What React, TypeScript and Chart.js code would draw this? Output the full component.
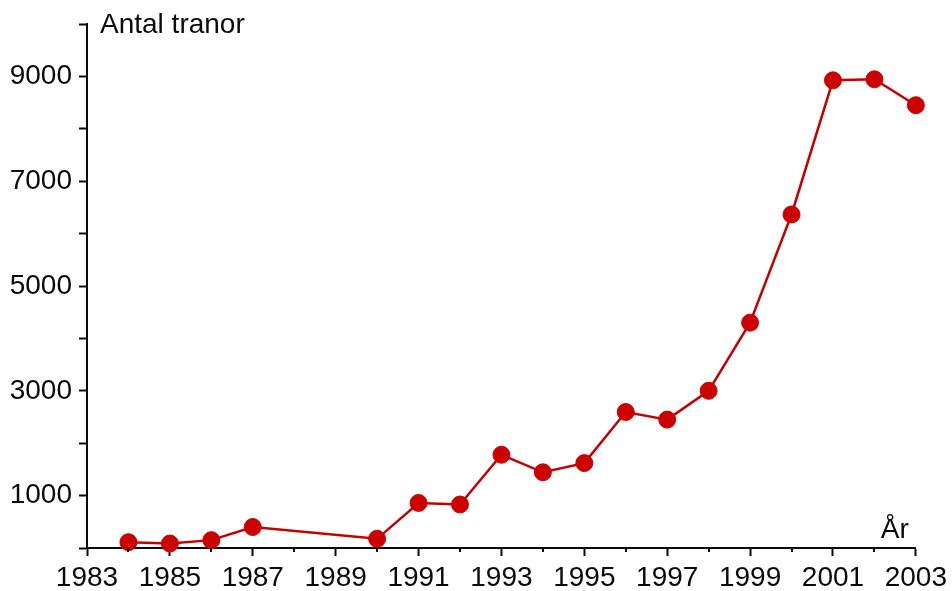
import { useEffect, useRef } from "react";
import { Chart, registerables } from "chart.js";

Chart.register(...registerables);

const years = [1984, 1985, 1986, 1987, 1990, 1991, 1992, 1993, 1994, 1995, 1996, 1997, 1998, 1999, 2000, 2001, 2002, 2003];
const cranes = [110, 85, 150, 400, 175, 860, 830, 1780, 1445, 1620, 2595, 2450, 3000, 4300, 6365, 8925, 8945, 8450];
const yTitle = "Antal tranor";
const xTitle = "År";
const xMin = 1983;
const xMax = 2003;
const yMin = 0;
const yMax = 10000;

const FONT = "'Liberation Sans', Arial, sans-serif";
const INK = "#0a0a0a";
const RED = "#cc0000";

export default function App() {
  const ref = useRef<HTMLCanvasElement | null>(null);

  useEffect(() => {
    document.body.style.margin = "0";
    const canvas = ref.current;
    if (!canvas) return;

    const extras = {
      id: "extras",
      afterDraw(chart: any) {
        const { ctx, chartArea, scales } = chart;
        const x = scales.x;
        ctx.save();
        ctx.strokeStyle = INK;
        ctx.lineWidth = 2;
        for (let yr = xMin; yr <= xMax; yr++) {
          if (yr % 2 === 0) {
            const px = Math.round(x.getPixelForValue(yr));
            ctx.beginPath();
            ctx.moveTo(px, chartArea.bottom);
            ctx.lineTo(px, chartArea.bottom + 4);
            ctx.stroke();
          }
        }
        ctx.fillStyle = INK;
        ctx.font = `28px ${FONT}`;
        ctx.textAlign = "left";
        ctx.textBaseline = "middle";
        ctx.fillText(yTitle, chartArea.left + 13, chartArea.top + 1);
        ctx.textAlign = "right";
        ctx.textBaseline = "alphabetic";
        ctx.fillText(xTitle, chartArea.right - 7, chartArea.bottom - 10);
        ctx.restore();
      },
    };

    const chart = new Chart(canvas, {
      type: "line",
      data: {
        datasets: [
          {
            data: years.map((yr, i) => ({ x: yr, y: cranes[i] })),
            borderColor: "#c40000",
            borderWidth: 2.5,
            backgroundColor: RED,
            pointBackgroundColor: RED,
            pointBorderColor: RED,
            pointBorderWidth: 1,
            pointRadius: 8.5,
            tension: 0,
            clip: false,
          } as any,
        ],
      },
      options: {
        responsive: false,
        animation: false,
        events: [],
        layout: { padding: { top: 24, right: 35, left: 0, bottom: 0 } },
        plugins: {
          legend: { display: false },
          tooltip: { enabled: false },
          title: { display: false },
        },
        scales: {
          x: {
            type: "linear",
            min: xMin,
            max: xMax,
            afterFit: (s: any) => {
              s.height = 43;
            },
            border: { display: true, color: INK, width: 2 },
            grid: {
              drawOnChartArea: false,
              drawTicks: true,
              tickLength: 8,
              tickWidth: 2,
              color: (c: any) => (c.tick && c.tick.value % 2 !== 0 ? INK : "rgba(0,0,0,0)"),
            } as any,
            ticks: {
              stepSize: 1,
              autoSkip: false,
              maxRotation: 0,
              padding: 5,
              color: INK,
              font: { family: FONT, size: 28 },
              callback: (v: any) => (Number(v) % 2 !== 0 ? String(v) : ""),
            },
          },
          y: {
            type: "linear",
            min: yMin,
            max: yMax,
            afterFit: (s: any) => {
              s.width = 87;
            },
            border: { display: true, color: INK, width: 2 },
            grid: {
              drawOnChartArea: false,
              drawTicks: true,
              tickLength: 8,
              tickWidth: 2,
              color: INK,
            },
            ticks: {
              stepSize: 1000,
              autoSkip: false,
              padding: 7,
              color: INK,
              font: { family: FONT, size: 28 },
              callback: (v: any) => (Number(v) % 2000 === 1000 ? String(v) : ""),
            },
          },
        },
      },
      plugins: [extras],
    });

    return () => chart.destroy();
  }, []);

  return (
    <div style={{ width: 952, height: 591, background: "#fff" }}>
      <canvas ref={ref} width={952} height={591} style={{ display: "block", width: 952, height: 591 }} />
    </div>
  );
}
